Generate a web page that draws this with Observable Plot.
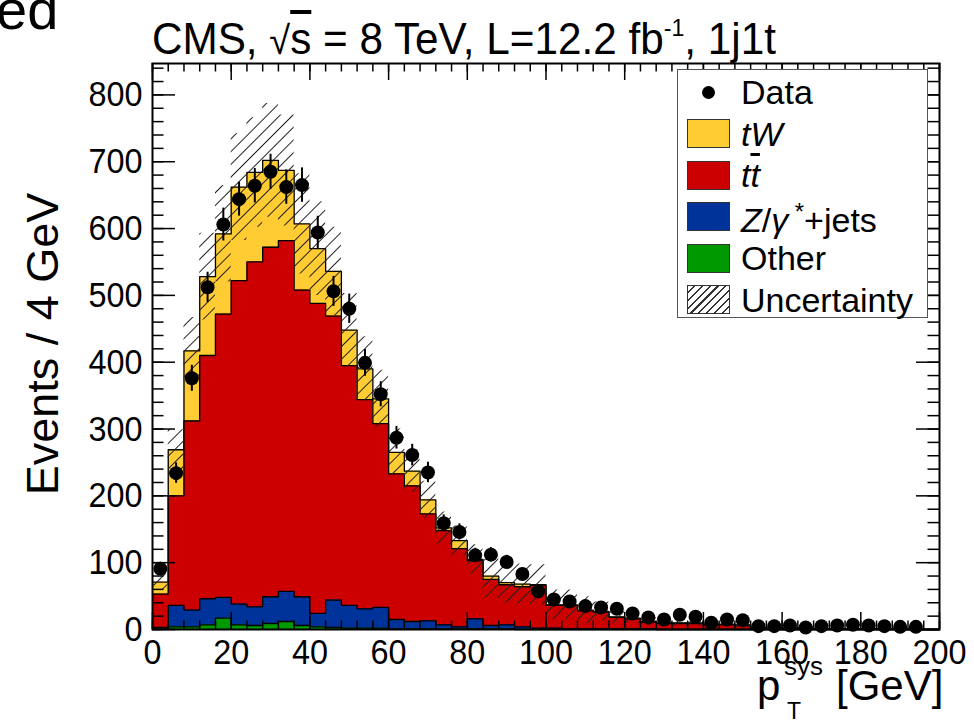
<!DOCTYPE html>
<html><head><meta charset="utf-8">
<script src="https://cdn.jsdelivr.net/npm/d3@7"></script>
<script src="https://cdn.jsdelivr.net/npm/@observablehq/plot@0.6"></script>
<style>
body{margin:0;background:#fff;}
#wrap{position:relative;width:974px;height:723px;overflow:hidden;font-family:"Liberation Sans",Arial,sans-serif;color:#000;}
.abs{position:absolute;white-space:nowrap;line-height:1;}
.sw{position:absolute;width:43px;height:29px;border:1px solid #333;box-sizing:border-box;}
.lt{position:absolute;font-size:34px;line-height:1;white-space:nowrap;}
</style></head><body><div id="wrap"></div>
<script>
// ---- data (Events / 4 GeV) ----
const binLow = [0,4,8,12,16,20,24,28,32,36,40,44,48,52,56,60,64,68,72,76,80,84,88,92,96,100,104,108,112,116,120,124,128,132,136,140,144,148,152,156,160,164,168,172,176,180,184,188,192,196];
const binWidth = 4;
const dataCounts = [91,234,376,512,606,644,664,685,662,665,594,506,480,399,352,287,261,235,159,146,111,112,101,83,57,45,42,35,33,31,24,18,15,22,19,10,15,14,5,5,6,3,5,6,7,6,5,4,4,null];
const other = [1,4,4,7,17,7,6,9,12,6,4,3,2,2,2,1,1,1,1,1,1,1,1,0,0,0,0,0,0,0,0,0,0,0,0,0,0,0,0,0,0,0,0,0,0,0,0,0,0,0];
const zjets = [2,32,25,39,31,31,28,40,45,43,20,41,34,29,31,14,11,12,6,3,15,5,6,4,2,2,1,1,1,1,1,1,0,0,0,0,0,0,0,0,0,0,0,0,0,0,0,0,0,0];
const ttbar = [50,164,283,364,424,484,516,523,525,459,464,425,359,313,275,218,203,160,141,117,87,69,60,60,64,34,35,27,25,17,15,10,9,9,9,7,7,6,2,2,2,1,1,1,1,1,1,0,0,0];
const tw = [18,69,105,118,120,140,134,130,105,99,82,67,53,46,37,32,22,21,4,12,2,5,3,4,1,1,1,1,1,1,1,1,1,1,1,1,1,1,1,0,0,1,0,0,0,0,0,1,0,0];
const uncHalf = [12,30,50,65,72,80,82,85,83,75,70,66,55,48,43,35,32,28,24,22,22,33,30,30,30,22,22,20,14,10,8,6,5,5,5,4,4,4,2,2,2,2,1,1,1,1,1,1,0,0];
const xTickLabels = [0,20,40,60,80,100,120,140,160,180,200];
const yTickLabels = [0,100,200,300,400,500,600,700,800];
const colors = {tw:"#ffcc33", tt:"#cc0000", z:"#003399", other:"#009900"};

// cumulative stack tops
const cOther = other.map(v=>v);
const cZ = cOther.map((v,i)=>v+zjets[i]);
const cTT = cZ.map((v,i)=>v+ttbar[i]);
const cTot = cTT.map((v,i)=>v+tw[i]);

const lastEdge = binLow[binLow.length-1] + binWidth;
function steps(vals){
  const r = binLow.map((x,i)=>({x, y: vals[i]}));
  r.push({x: lastEdge, y: vals[vals.length-1]});
  return r;
}
const uncRows = binLow.map((x,i)=>({x, y1: cTot[i]-uncHalf[i], y2: cTot[i]+uncHalf[i]}));
uncRows.push({x: lastEdge, y1: uncRows[uncRows.length-1].y1, y2: uncRows[uncRows.length-1].y2});
const dataRows = binLow.map((x,i)=>({c: x + binWidth/2, n: dataCounts[i]})).filter(d=>d.n!=null);

const W = 974, H = 723, mL = 152, mR = 35, mT = 63, mB = 94;
const iw = W-mL-mR, ih = H-mT-mB;
const xMinor = d3.range(0, 201, 4), yMinor = d3.range(0, 841, 20);

function layer(vals, fill){
  return [
    Plot.areaY(steps(vals), {x:"x", y:"y", curve:"step-after", fill}),
    Plot.lineY(steps(vals), {x:"x", y:"y", curve:"step-after", stroke:"black", strokeWidth:1.3})
  ];
}

const svg = Plot.plot({
  width: W, height: H,
  marginLeft: mL, marginRight: mR, marginTop: mT, marginBottom: mB,
  x: {domain:[0,200]},
  y: {domain:[0,847]},
  style: {fontFamily:"Liberation Sans, Arial, sans-serif", fontSize:"36px", color:"black", background:"white", overflow:"visible"},
  marks: [
    ...layer(cTot, colors.tw),
    ...layer(cTT, colors.tt),
    ...layer(cZ, colors.z),
    ...layer(cOther, colors.other),
    Plot.areaY(uncRows, {x:"x", y1:"y1", y2:"y2", curve:"step-after", fill:"url(#hatch)"}),
    Plot.ruleX(dataRows, {x:"c", y1:d=>d.n-Math.sqrt(d.n), y2:d=>d.n+Math.sqrt(d.n), stroke:"black", strokeWidth:2}),
    Plot.dot(dataRows, {x:"c", y:"n", r:7, fill:"black", stroke:null}),
    // inside ticks, all four sides
    Plot.tickX(xTickLabels, {x:d=>d, insetTop: ih-17, stroke:"black", strokeWidth:1.5}),
    Plot.tickX(xMinor, {x:d=>d, insetTop: ih-8.5, stroke:"black", strokeWidth:1.5}),
    Plot.tickX(xTickLabels, {x:d=>d, insetBottom: ih-17, stroke:"black", strokeWidth:1.5}),
    Plot.tickX(xMinor, {x:d=>d, insetBottom: ih-8.5, stroke:"black", strokeWidth:1.5}),
    Plot.tickY(yTickLabels, {y:d=>d, insetRight: iw-23, stroke:"black", strokeWidth:1.5}),
    Plot.tickY(yMinor, {y:d=>d, insetRight: iw-11.5, stroke:"black", strokeWidth:1.5}),
    Plot.tickY(yTickLabels, {y:d=>d, insetLeft: iw-23, stroke:"black", strokeWidth:1.5}),
    Plot.tickY(yMinor, {y:d=>d, insetLeft: iw-11.5, stroke:"black", strokeWidth:1.5}),
    Plot.axisX({ticks: xTickLabels, tickSize:0, tickPadding:9, fontSize:36, label:null}),
    Plot.axisY({ticks: yTickLabels, tickSize:0, tickPadding:10, fontSize:36, label:null}),
    Plot.frame({stroke:"black", strokeWidth:2})
  ]
});

// slightly condensed tick labels, as in the original
d3.select(svg).selectAll("g[aria-label='x-axis tick label'] text, g[aria-label='y-axis tick label'] text")
  .each(function(){ const t = this.getAttribute("transform") || ""; this.setAttribute("transform", t + " scale(0.9,1)"); });

// hatch pattern for the uncertainty band
const defs = d3.select(svg).insert("defs", ":first-child");
const pat = defs.append("pattern").attr("id","hatch").attr("patternUnits","userSpaceOnUse")
  .attr("width",9).attr("height",9).attr("patternTransform","rotate(45)");
pat.append("line").attr("x1",0).attr("y1",0).attr("x2",0).attr("y2",9).attr("stroke","#222").attr("stroke-width",2);

const wrap = document.getElementById("wrap");
svg.style.position = "absolute"; svg.style.left = "0"; svg.style.top = "0";
wrap.appendChild(svg);

function add(html, css, cls="abs"){
  const d = document.createElement("div");
  d.className = cls; d.innerHTML = html; Object.assign(d.style, css);
  wrap.appendChild(d); return d;
}
// cropped text at top-left
add("ed", {left:"-4px", top:"-18px", fontSize:"56px"});
// title
add('CMS, <span style="font-size:0.9em">√</span><span style="text-decoration:overline">s</span> = 8 TeV, L=12.2 fb<sup style="font-size:0.55em;vertical-align:0.75em">-1</sup>, 1j1t',
    {left:"152px", top:"16px", fontSize:"44px", transform:"scaleX(0.96)", transformOrigin:"left center"});
// y title
add("Events / 4 GeV", {left:"42px", top:"344px", fontSize:"45px", transform:"translate(-50%,-50%) rotate(-90deg)"});
// x title: p, superscript sys, subscript T, [GeV]
add("p", {left:"757px", top:"665px", fontSize:"42px"});
add("sys", {left:"784px", top:"653px", fontSize:"26px"});
add("T", {left:"787px", top:"700px", fontSize:"23px"});
add("[GeV]", {left:"836px", top:"665px", fontSize:"42px"});

// legend
add("", {left:"677px", top:"69px", width:"251px", height:"249px", border:"1.5px solid #555", boxSizing:"border-box", background:"white"});
const legend = [
  {label:"Data", kind:"dot"},
  {label:"<i>tW</i>", kind:"fill", fill:colors.tw},
  {label:'<i>t<span style="text-decoration:overline">t</span></i>', kind:"fill", fill:colors.tt},
  {label:'<i>Z</i>/<i>γ</i><span style="font-size:0.7em;vertical-align:0.5em"> *</span>+jets', kind:"fill", fill:colors.z},
  {label:"Other", kind:"fill", fill:colors.other},
  {label:"Uncertainty", kind:"hatch"}
];
legend.forEach((e,i)=>{
  const cy = 92 + i*41.5;
  if(e.kind==="dot"){
    add("", {left:(708-6.5)+"px", top:(cy-6.5)+"px", width:"13px", height:"13px", borderRadius:"50%", background:"black"});
  } else {
    const s = add("", {left:"687px", top:(cy-14.5)+"px"}, "sw");
    s.style.background = e.kind==="hatch"
      ? "repeating-linear-gradient(135deg, #fff 0 4px, #333 4px 5.5px)"
      : e.fill;
  }
  add(e.label, {left:"741px", top:(cy-17)+"px"}, "lt");
});
</script>
</body></html>
